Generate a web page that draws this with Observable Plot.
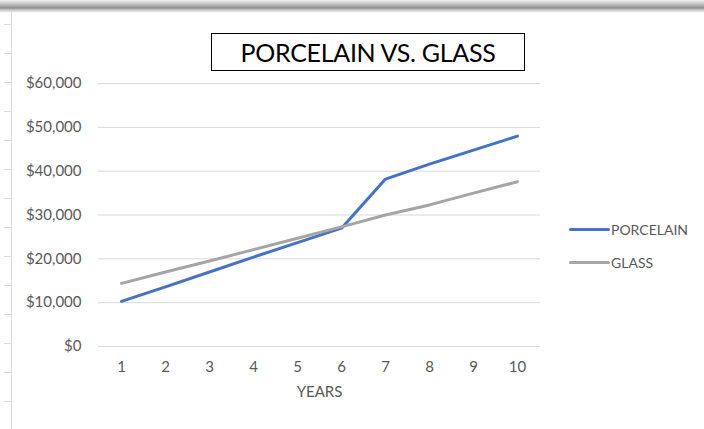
<!DOCTYPE html>
<html>
<head>
<meta charset="utf-8">
<script src="https://cdn.jsdelivr.net/npm/d3@7"></script>
<script src="https://cdn.jsdelivr.net/npm/@observablehq/plot@0.6"></script>
<style>
  html, body { margin: 0; padding: 0; background: #fff; }
  #wrap { position: relative; width: 704px; height: 429px; overflow: hidden; background: #fff; font-family: Lato, "Open Sans", sans-serif; }
  #shadowTop { position: absolute; left: 0; top: 0; width: 704px; height: 13px;
    background: linear-gradient(to bottom, #f0f0f0 0px, #c4c4c4 4px, #8f8f8f 8px, #c8c8c8 10px, #ffffff 13px); }
  #leftEdge { position: absolute; left: 11px; top: 11px; width: 1px; height: 418px; background: #d9d9d9; }
  #leftTicks { position: absolute; left: 4px; top: 10px; width: 7px; height: 419px;
    background: repeating-linear-gradient(to bottom, transparent 0px, transparent 14px, #d9d9d9 14px, #d9d9d9 15px, transparent 15px, transparent 29px); }
  #chart { position: absolute; left: 0; top: 0; }
  #title { position: absolute; left: 211px; top: 33px; width: 314px; height: 38px; border: 1.5px solid #000; box-sizing: border-box;
    font-size: 25px; font-weight: 400; line-height: 36px; text-align: center; color: #000; background: #fff; letter-spacing: -0.3px; }
  .leg { position: absolute; left: 569px; font-size: 14px; color: #595959; display: flex; align-items: center; }
  .leg span.sw { display: inline-block; width: 41px; height: 3px; margin-right: 1px; border-radius: 1.5px; }
</style>
</head>
<body>
<div id="wrap">
  <div id="shadowTop"></div>
  <div id="leftTicks"></div>
  <div id="leftEdge"></div>
  <div id="chart"></div>
  <div id="title">PORCELAIN VS. GLASS</div>
  <div id="legend"></div>
</div>
<script>
const years = [1, 2, 3, 4, 5, 6, 7, 8, 9, 10];
const porcelain = [10300, 13600, 17000, 20400, 23700, 27000, 38200, 41600, 44800, 48000];
const glass = [14400, 17000, 19500, 22100, 24700, 27300, 30000, 32300, 35000, 37600];
const yTicks = [0, 10000, 20000, 30000, 40000, 50000, 60000];
const seriesNames = ["PORCELAIN", "GLASS"];
const seriesColors = ["#4472C4", "#A5A5A5"];

const rows = [];
years.forEach((yr, i) => {
  rows.push({ year: yr, value: porcelain[i], series: seriesNames[0] });
});
years.forEach((yr, i) => {
  rows.push({ year: yr, value: glass[i], series: seriesNames[1] });
});

const plot = Plot.plot({
  width: 704,
  height: 429,
  marginLeft: 98,
  marginRight: 164,
  marginTop: 83,
  marginBottom: 83,
  style: { fontFamily: "Lato, 'Open Sans', sans-serif", fontSize: "15px", color: "#595959", background: "transparent" },
  x: { type: "point", domain: years, padding: 0.5 },
  y: { domain: [0, 60000] },
  color: { domain: seriesNames, range: seriesColors },
  marks: [
    Plot.gridY(yTicks, { stroke: "#D9D9D9", strokeOpacity: 1, strokeWidth: 1 }),
    Plot.axisY(yTicks, { tickSize: 0, tickPadding: 17, tickFormat: d => "$" + d3.format(",")(d), label: null, fill: "#595959" }),
    Plot.axisX(years, { tickSize: 0, tickPadding: 15, label: "YEARS", labelAnchor: "center", labelArrow: "none", labelOffset: 50, fill: "#595959" }),
    Plot.line(rows, { x: "year", y: "value", z: "series", stroke: "series", strokeWidth: 3, strokeLinecap: "round", strokeLinejoin: "round" })
  ]
});
document.getElementById("chart").appendChild(plot);

const legend = document.getElementById("legend");
const legTops = [221, 254];
seriesNames.forEach((name, i) => {
  const d = document.createElement("div");
  d.className = "leg";
  d.style.top = legTops[i] + "px";
  d.innerHTML = `<span class="sw" style="background:${seriesColors[i]}"></span>${name}`;
  legend.appendChild(d);
});
</script>
</body>
</html>
